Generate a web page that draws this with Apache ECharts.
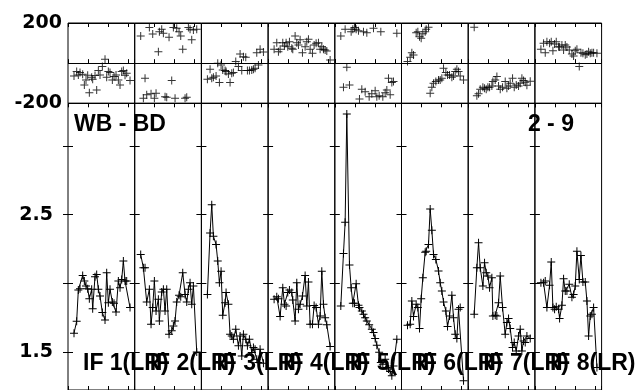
<!DOCTYPE html>
<html>
<head>
<meta charset="utf-8">
<script src="https://cdn.jsdelivr.net/npm/echarts@6/dist/echarts.min.js"></script>
<style>html,body{margin:0;padding:0;background:#fff}#c{width:641px;height:390px}</style>
</head>
<body>
<div id="c"></div>
<script>
// ---- data ----
const ifLabels = ["IF 1(LR)","IF 2(LR)","IF 3(LR)","IF 4(LR)","IF 5(LR)","IF 6(LR)","IF 7(LR)","IF 8(LR)"];
const baselineLabel = "WB - BD";
const stokesLabel = "2 - 9";
const times = [0.09,0.13,0.155,0.18,0.22,0.245,0.27,0.295,0.32,0.355,0.37,0.405,0.43,0.455,0.48,0.515,0.555,0.58,0.605,0.63,0.665,0.69,0.72,0.755,0.78,0.805,0.83,0.855,0.88,0.93];
const phaseTicks = [-200, 200];
const ampTicks = [1.5, 2.0, 2.5, 3.0];
const ampTickLabels = [1.5, 2.5];

const amp1 = [1.638,1.725,1.952,1.961,2.058,2.017,1.981,1.961,1.889,1.957,1.816,2.048,2.065,1.957,1.908,1.788,1.734,2.077,1.860,1.957,1.865,1.855,1.792,2.017,1.969,2.029,2.162,2.017,2.017,1.824];
const amp2 = [2.21,2.114,2.114,1.865,1.957,1.703,1.824,2.017,1.80,1.884,1.727,1.937,1.957,1.80,1.957,1.63,1.655,1.691,1.727,1.865,1.913,1.903,2.077,1.92,1.865,1.957,2.005,1.848,1.981,1.502];
const amp3 = [1.92,2.367,2.572,2.343,2.283,2.162,2.005,2.089,1.768,1.86,1.933,1.848,1.63,1.618,1.594,1.667,1.546,1.618,1.473,1.63,1.594,1.546,1.594,1.498,1.534,1.522,1.449,1.425,1.522,1.42];
const amp4 = [1.884,1.903,1.889,1.759,1.969,1.848,1.836,1.933,1.952,1.933,1.879,1.727,2.005,1.812,1.848,1.908,2.058,1.836,2.01,1.703,1.703,1.84,1.824,1.703,1.763,2.089,1.848,1.751,1.70,1.541];
const amp5 = [1.836,2.217,2.444,3.232,2.133,1.969,1.855,1.855,1.998,1.841,1.824,1.80,1.775,1.75,1.727,1.70,1.667,1.643,1.60,1.551,1.50,1.425,1.413,1.449,1.389,1.377,1.36,1.328,1.40,1.594];
const amp6 = [1.696,1.703,1.872,1.759,1.848,1.824,1.672,1.889,2.041,2.227,2.234,2.283,2.541,2.386,2.21,2.174,2.09,2.005,1.944,1.865,1.80,1.686,1.763,1.913,1.751,1.63,1.599,1.812,1.824,1.292];
const amp7 = [1.775,2.114,2.295,2.114,1.981,2.15,2.077,2.053,1.969,2.041,1.763,1.768,1.763,1.86,2.053,1.824,1.63,1.715,1.744,1.672,1.534,1.57,1.509,1.618,1.667,1.509,1.582,1.57,1.618,1.599];
const amp8 = [2.005,2.005,2.017,1.824,1.986,2.155,1.824,1.812,1.831,1.812,1.744,1.841,2.034,1.944,1.944,1.993,1.90,1.92,1.981,2.234,2.029,2.203,2.01,2.01,1.872,1.618,1.763,1.775,1.824,1.389];

const ph1 = [-64,-42,-59,-47,-55,-109,-84,-60,-147,-70,-80,-62,-134,-37,-59,-17,19,-70,-42,-47,-84,-67,-59,-84,-109,-42,-37,-60,-50,-87];
const ph2 = [135,-175,-75,-158,178,-153,145,-175,-150,57,157,169,149,-167,-170,129,-87,178,-175,174,157,135,69,-175,-170,178,169,116,165,169];
const ph3 = [-80,-30,-75,-70,-64,0,-97,-9,-34,-37,-42,-54,-97,-50,-47,8,-17,46,-37,32,29,-37,-37,-34,-30,-25,52,-9,69,55];
const ph4 = [69,102,57,69,102,86,102,82,107,74,69,135,102,91,116,52,82,107,119,69,49,91,99,102,69,82,69,66,60,16];
const ph5 = [135,-120,169,-20,-109,157,169,178,169,162,-178,-130,157,-142,152,-167,-153,174,-137,-167,-163,157,-167,-147,-134,-75,-158,-97,-92,149];
const ph6 = [8,29,52,40,152,157,132,124,147,157,169,179,-150,-120,-100,-92,-84,-84,-75,-25,-47,-59,-59,-70,-64,-42,-30,-42,-64,-84];
const ph7 = [179,-163,-153,-130,-120,-125,-130,-120,-120,-114,-92,-84,-67,-114,-130,-120,-92,-125,-114,-100,-75,-120,-109,-114,-100,-75,-87,-95,-110,-90];
const ph8 = [69,99,52,107,99,107,62,96,107,82,80,91,66,91,80,66,46,36,62,69,-17,52,49,42,46,57,49,52,52,49];

const ampList = [amp1,amp2,amp3,amp4,amp5,amp6,amp7,amp8];
const phList = [ph1,ph2,ph3,ph4,ph5,ph6,ph7,ph8];

// ---- layout ----
const L0 = 68, PW = 66.7;
const TOP_T = 23, TOP_H = 80.3;
const BOT_T = 103.3, BOT_H = 287.7;
const PLUS = 'path://M0,3.5H8V4.5H0Z M3.5,0H4.5V8H3.5Z';
const labelFont = 'DejaVu Sans';
const textFont = 'Liberation Sans';

const grid = [], xAxis = [], yAxis = [], series = [];
function addXAxes(g) {
  ['bottom','top'].forEach(pos => {
    xAxis.push({
      gridIndex: g, type: 'value', position: pos, min: 0, max: 1, interval: 0.3,
      axisLine: {show: false},
      axisTick: {show: true, inside: true, length: 4, lineStyle: {color: '#000', width: 1}},
      axisLabel: {show: false}, splitLine: {show: false}
    });
  });
}
for (let i = 0; i < 8; i++) {
  const left = L0 + i * PW;
  // phase panel
  const gT = grid.length;
  grid.push({left: left, top: TOP_T, width: PW, height: TOP_H, show: true, borderColor: '#000', borderWidth: 1, backgroundColor: 'transparent'});
  addXAxes(gT);
  const yT = yAxis.length;
  yAxis.push({
    gridIndex: gT, type: 'value', min: -200, max: 200, interval: 200, position: 'left',
    axisLine: {show: false}, axisTick: {show: false},
    axisLabel: {show: i === 0, customValues: phaseTicks, margin: 6, color: '#000', fontFamily: labelFont, fontWeight: 'bold', fontSize: 19},
    splitLine: {show: true, lineStyle: {color: '#000', width: 1}}
  });
  series.push({
    type: 'scatter', xAxisIndex: gT * 2, yAxisIndex: yT,
    data: times.map((t, k) => [t, phList[i][k]]),
    symbol: PLUS, symbolSize: 8, itemStyle: {color: '#000'}, silent: true
  });
  // amplitude panel
  const gB = grid.length;
  grid.push({left: left, top: BOT_T, width: PW, height: BOT_H, show: true, borderColor: '#000', borderWidth: 1, backgroundColor: 'transparent'});
  addXAxes(gB);
  const yB = yAxis.length;
  ['left','right'].forEach(pos => {
    yAxis.push({
      gridIndex: gB, type: 'value', min: 1.225, max: 3.309, position: pos,
      axisLine: {show: false},
      axisTick: {show: true, inside: true, length: 5, customValues: ampTicks, lineStyle: {color: '#000', width: 1}},
      axisLabel: {show: i === 0 && pos === 'left', customValues: ampTickLabels, margin: 15, color: '#000', fontFamily: labelFont, fontWeight: 'bold', fontSize: 19, formatter: v => v.toFixed(1)},
      splitLine: {show: false}
    });
  });
  series.push({
    type: 'line', xAxisIndex: gB * 2, yAxisIndex: yB,
    data: times.map((t, k) => [t, ampList[i][k]]),
    symbol: PLUS, symbolSize: 8, showSymbol: true, showAllSymbol: true,
    lineStyle: {color: '#000', width: 1}, itemStyle: {color: '#000'}, silent: true
  });
}

const graphic = [];
graphic.push({type: 'text', x: L0 + 6, y: 125, z: 100,
  style: {text: baselineLabel, font: 'bold 23px "' + textFont + '"', fill: '#000', align: 'left', verticalAlign: 'middle'}});
graphic.push({type: 'text', x: L0 + 7 * PW - 7, y: 125, z: 100,
  style: {text: stokesLabel, font: 'bold 23px "' + textFont + '"', fill: '#000', align: 'left', verticalAlign: 'middle'}});
ifLabels.forEach((s, i) => {
  graphic.push({type: 'text', x: L0 + 15 + i * PW, y: 364, z: 100,
    style: {text: s, font: 'bold 23px "' + textFont + '"', fill: '#000', align: 'left', verticalAlign: 'middle'}});
});

const chart = echarts.init(document.getElementById('c'), null, {renderer: 'canvas'});
chart.setOption({
  animation: false,
  backgroundColor: '#fff',
  grid, xAxis, yAxis, series, graphic
});
</script>
</body>
</html>
